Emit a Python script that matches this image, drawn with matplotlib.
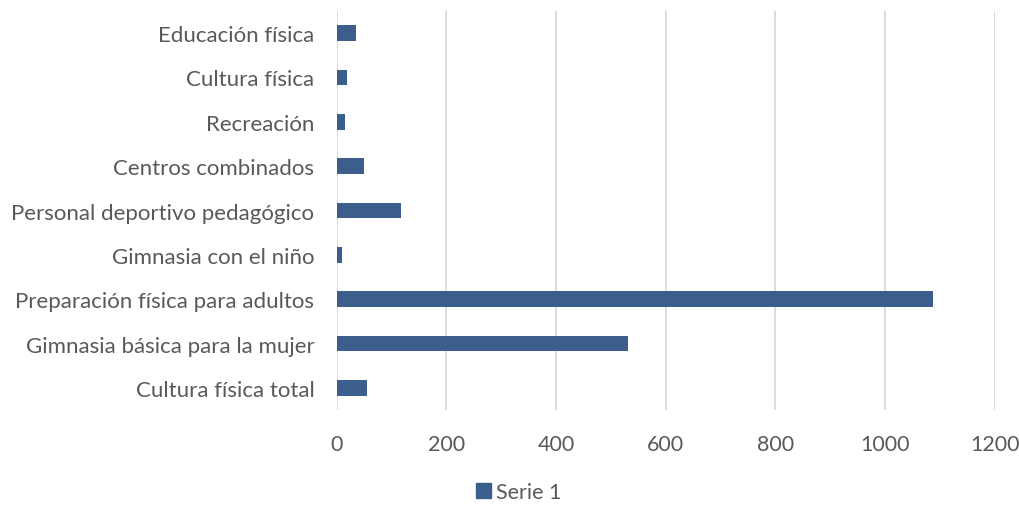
import matplotlib
matplotlib.use("Agg")
import matplotlib.pyplot as plt
from matplotlib.patches import Patch

categories = ["Cultura física total", "Gimnasia básica para la mujer",
              "Preparación física para adultos", "Gimnasia con el niño",
              "Personal deportivo pedagógico", "Centros combinados",
              "Recreación", "Cultura física", "Educación física"]
values = [55, 531, 1088, 10, 117, 49, 16, 18, 35]
xticks = [0, 200, 400, 600, 800, 1000, 1200]
series_name = "Serie 1"

plt.rcParams['font.family'] = ['Lato', 'DejaVu Sans']
txt = '#595959'
bar_color = '#3B5E8C'

fig = plt.figure(figsize=(10.19, 5.06), dpi=100)
ax = fig.add_axes([0.3304, 0.1877, 0.6458, 0.7886])
ypos = list(range(len(categories)))
ax.barh(ypos, values, height=0.36, color=bar_color, zorder=3)
ax.set_xlim(0, 1200)
ax.set_ylim(-0.5, len(categories) - 0.5)
ax.set_xticks(xticks)
ax.set_xticklabels([str(t) for t in xticks])
ax.set_yticks(ypos)
ax.set_yticklabels(categories)
ax.grid(axis='x', color='#D9D9D9', linewidth=1.3, zorder=0)
for s in ax.spines.values():
    s.set_visible(False)
ax.tick_params(axis='both', length=0, colors=txt)
ax.tick_params(axis='y', pad=16, labelsize=16)
ax.tick_params(axis='x', pad=17, labelsize=15.5)

leg = fig.legend(handles=[Patch(color=bar_color, label=series_name)],
                 loc='center', bbox_to_anchor=(0.509, 1 - 493 / 506),
                 frameon=False, fontsize=15.5, handlelength=0.7, handleheight=0.7,
                 handletextpad=0.25)
for t in leg.get_texts():
    t.set_color(txt)

fig.savefig("out.png", dpi=100)
